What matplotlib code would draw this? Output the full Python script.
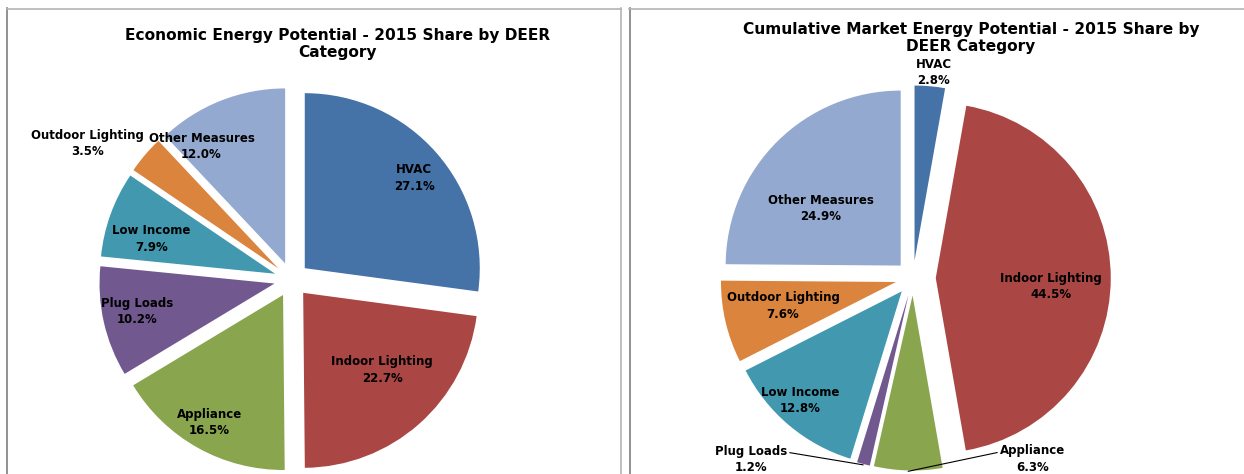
import numpy as np
import matplotlib
matplotlib.use('Agg')
import matplotlib.pyplot as plt
from matplotlib.lines import Line2D

categories = ['HVAC', 'Indoor Lighting', 'Appliance', 'Plug Loads',
              'Low Income', 'Outdoor Lighting', 'Other Measures']
economic_share = [27.1, 22.7, 16.5, 10.2, 7.9, 3.5, 12.0]
market_share = [2.8, 44.5, 6.3, 1.2, 12.8, 7.6, 24.9]
left_title = 'Economic Energy Potential - 2015 Share by DEER\nCategory'
right_title = 'Cumulative Market Energy Potential - 2015 Share by\nDEER Category'

colors = ['#4572A7', '#AA4643', '#89A54E', '#71588F', '#4198AF', '#DB843D', '#93A9CF']

W, H = 1244, 474
fig = plt.figure(figsize=(W / 100, H / 100), dpi=100)
fig.patch.set_facecolor('white')


def fx(x):
    return x / W


def fy(y):
    return 1 - y / H


# panel borders
def vline(x, y0, y1, c):
    fig.add_artist(Line2D([fx(x), fx(x)], [fy(y0), fy(y1)], color=c, lw=1.2))


def hline(y, x0, x1, c):
    fig.add_artist(Line2D([fx(x0), fx(x1)], [fy(y), fy(y)], color=c, lw=1.2))


vline(7.5, 8, 474, '#7f7f7f')
hline(8.5, 7, 621, '#b4b4b4')
vline(620.5, 8, 474, '#b4b4b4')
vline(629.5, 8, 474, '#7f7f7f')
hline(8.5, 629, 1244, '#b4b4b4')

LIM = 1.3
LABEL_SIZE = 8.5
LS = 1.35


def pie_axes(cx, cy, r):
    half = LIM * r
    ax = fig.add_axes([(cx - half) / W, (H - cy - half) / H, 2 * half / W, 2 * half / H])
    return ax


def draw_pie(ax, values, explode, label_r, label_tweak, leaders):
    wedges, _ = ax.pie(values, colors=colors, startangle=90, counterclock=False,
                       explode=explode, wedgeprops=dict(linewidth=0))
    ax.set_xlim(-LIM, LIM)
    ax.set_ylim(-LIM, LIM)
    ax.set_aspect('equal')
    ax.axis('off')
    for i, w in enumerate(wedges):
        mid = np.deg2rad((w.theta1 + w.theta2) / 2)
        ang = mid + np.deg2rad(label_tweak[i])
        tx, ty = label_r[i] * np.cos(ang), label_r[i] * np.sin(ang)
        txt = '%s\n%.1f%%' % (categories[i], values[i])
        if i in leaders:
            ex = (1 + explode[i] + 0.005) * np.cos(mid)
            ey = (1 + explode[i] + 0.005) * np.sin(mid)
            ax.annotate(txt, xy=(ex, ey), xytext=(tx, ty), ha='center', va='center',
                        fontsize=LABEL_SIZE, fontweight='bold', annotation_clip=False,
                        linespacing=LS,
                        arrowprops=dict(arrowstyle='-', color='black', lw=0.8,
                                        relpos=leaders[i], shrinkA=0, shrinkB=0))
        else:
            ax.text(tx, ty, txt, ha='center', va='center', fontsize=LABEL_SIZE,
                    fontweight='bold', linespacing=LS)


ax1 = pie_axes(291.6, 279.7, 175)
draw_pie(ax1, economic_share, [0.1] * 7,
         [0.91, 0.73, 0.94, 0.90, 0.835, 1.40, 0.92],
         [-1.5, 3.7, -0.7, -1.1, 3.8, 6.7, 12.4], {})

ax2 = pie_axes(913, 278, 175)
draw_pie(ax2, market_share, [0.1, 0.13, 0.1, 0.1, 0.1, 0.1, 0.1],
         [1.18, 0.79, 1.24, 1.39, 0.95, 0.76, 0.66],
         [-0.8, -3.5, 34.9, -26.9, -2.5, -1.0, 8.2],
         {2: (0.0, 0.74), 3: (1.0, 0.74)})

fig.text(fx(337.5), fy(44), left_title, ha='center', va='center', fontsize=11.1,
         fontweight='bold', linespacing=1.15)
fig.text(fx(971), fy(38), right_title, ha='center', va='center', fontsize=11.1,
         fontweight='bold', linespacing=1.15)

fig.savefig('out.png', dpi=100)
